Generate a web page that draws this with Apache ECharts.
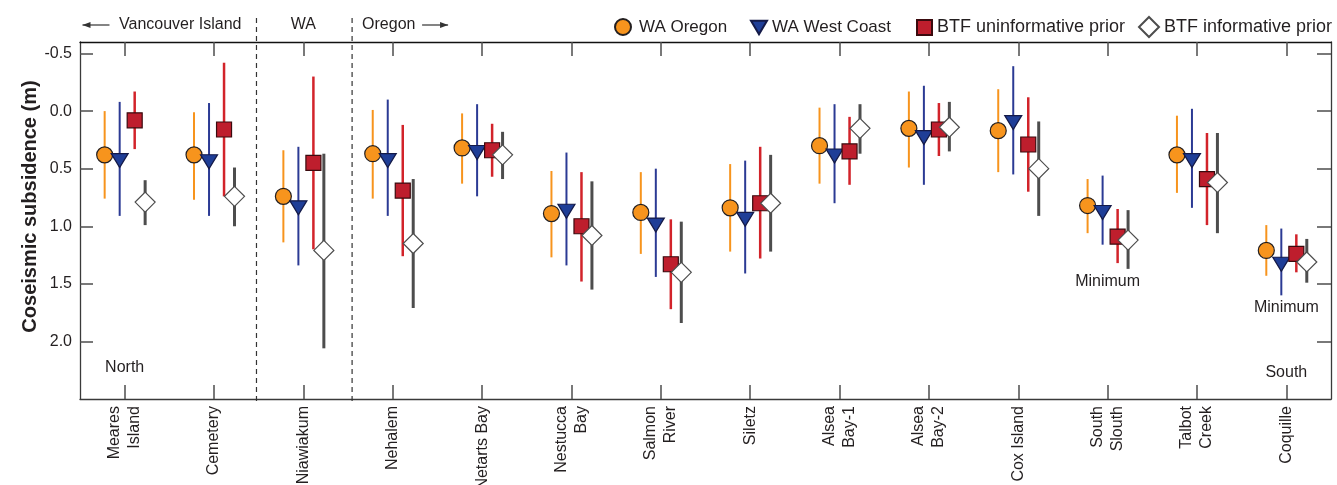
<!DOCTYPE html>
<html>
<head>
<meta charset="utf-8">
<script src="https://cdn.jsdelivr.net/npm/echarts@6/dist/echarts.min.js"></script>
<style>
  html, body { margin: 0; padding: 0; background: #ffffff; }
  #chart { width: 1337px; height: 485px; }
</style>
</head>
<body>
<div id="chart"></div>
<script>
// Sites from north (Vancouver Island) to south (Oregon)
const sites = ['Meares\nIsland', 'Cemetery', 'Niawiakum', 'Nehalem', 'Netarts Bay',
  'Nestucca\nBay', 'Salmon\nRiver', 'Siletz', 'Alsea\nBay-1', 'Alsea\nBay-2',
  'Cox Island', 'South\nSlouth', 'Talbot\nCreek', 'Coquille'];

const yTicks = [-0.5, 0.0, 0.5, 1.0, 1.5, 2.0];

// Coseismic subsidence (m): best estimate and uncertainty range per site
const waOregonMid  = [0.38, 0.38, 0.74, 0.37, 0.32, 0.89, 0.88, 0.84, 0.30, 0.15, 0.17, 0.82, 0.38, 1.21];
const waOregonLo   = [0.00, 0.01, 0.34, -0.01, 0.02, 0.52, 0.53, 0.46, -0.03, -0.17, -0.19, 0.59, 0.04, 0.99];
const waOregonHi   = [0.76, 0.77, 1.14, 0.76, 0.63, 1.27, 1.24, 1.22, 0.63, 0.49, 0.53, 1.06, 0.71, 1.43];

const waCoastMid   = [0.43, 0.44, 0.84, 0.43, 0.36, 0.87, 0.99, 0.94, 0.39, 0.23, 0.10, 0.88, 0.43, 1.33];
const waCoastLo    = [-0.08, -0.07, 0.31, -0.10, -0.06, 0.36, 0.50, 0.43, -0.06, -0.22, -0.39, 0.56, -0.02, 1.02];
const waCoastHi    = [0.91, 0.91, 1.34, 0.91, 0.74, 1.34, 1.44, 1.41, 0.80, 0.64, 0.55, 1.16, 0.84, 1.60];

const btfUninfMid  = [0.08, 0.16, 0.45, 0.69, 0.34, 1.00, 1.33, 0.80, 0.35, 0.16, 0.29, 1.09, 0.59, 1.24];
const btfUninfLo   = [-0.17, -0.42, -0.30, 0.12, 0.11, 0.53, 0.94, 0.31, 0.05, -0.07, -0.12, 0.85, 0.19, 1.07];
const btfUninfHi   = [0.33, 0.74, 1.20, 1.26, 0.57, 1.48, 1.72, 1.28, 0.64, 0.39, 0.70, 1.32, 0.99, 1.40];

const btfInfMid    = [0.79, 0.74, 1.21, 1.15, 0.38, 1.08, 1.40, 0.80, 0.15, 0.14, 0.50, 1.12, 0.62, 1.31];
const btfInfLo     = [0.60, 0.49, 0.37, 0.59, 0.18, 0.61, 0.96, 0.38, -0.06, -0.08, 0.09, 0.86, 0.19, 1.11];
const btfInfHi     = [0.99, 1.00, 2.06, 1.71, 0.59, 1.55, 1.84, 1.22, 0.37, 0.35, 0.91, 1.37, 1.06, 1.49];

// Text notes placed in data coordinates (site index, subsidence)
const noteText = ['North', 'South', 'Minimum', 'Minimum'];
const noteSite = [0, 13, 11, 13];
const noteDepth = [2.23, 2.27, 1.48, 1.71];

const FONT = '"Liberation Sans", Arial, Helvetica, sans-serif';
const INK = '#231F20';
const DOWN_TRIANGLE = 'path://M0,0L20,0L10,17Z';

const groups = [
  { name: 'WA Oregon', mid: waOregonMid, lo: waOregonLo, hi: waOregonHi, shift: -0.224,
    symbol: 'circle', size: 16, fill: '#F7941D', border: '#231F20', bar: '#F7941D', barW: 2 },
  { name: 'WA West Coast', mid: waCoastMid, lo: waCoastLo, hi: waCoastHi, shift: -0.056,
    symbol: DOWN_TRIANGLE, size: [17, 14], fill: '#1F3E97', border: '#141A48', bar: '#2B3A94', barW: 2 },
  { name: 'BTF uninformative prior', mid: btfUninfMid, lo: btfUninfLo, hi: btfUninfHi, shift: 0.112,
    symbol: 'rect', size: 15, fill: '#BE1E2D', border: '#3A0A0E', bar: '#D2232A', barW: 2.5 },
  { name: 'BTF informative prior', mid: btfInfMid, lo: btfInfLo, hi: btfInfHi, shift: 0.229,
    symbol: 'diamond', size: [20, 20], fill: '#FFFFFF', border: '#4D4D4D', bar: '#4D4D4D', barW: 3 }
];

const chart = echarts.init(document.getElementById('chart'), null, { renderer: 'canvas' });

const series = [];
groups.forEach(g => {
  series.push({
    name: g.name + ' range',
    type: 'custom',
    xAxisIndex: 2,
    yAxisIndex: 0,
    silent: true,
    z: 2,
    data: g.lo.map((l, i) => [i + g.shift, l, g.hi[i]]),
    encode: { x: 0, y: [1, 2] },
    renderItem: (params, api) => {
      const a = api.coord([api.value(0), api.value(1)]);
      const b = api.coord([api.value(0), api.value(2)]);
      return { type: 'line', shape: { x1: a[0], y1: a[1], x2: b[0], y2: b[1] },
        style: { stroke: g.bar, lineWidth: g.barW } };
    }
  });
});
groups.forEach((g, k) => {
  series.push({
    name: g.name,
    type: 'scatter',
    xAxisIndex: 2,
    yAxisIndex: 0,
    z: 3 + k,
    symbol: g.symbol,
    symbolSize: g.size,
    data: g.mid.map((m, i) => [i + g.shift, m]),
    itemStyle: { color: g.fill, borderColor: g.border, borderWidth: 1.2, opacity: 1 }
  });
});
series.push({
  name: 'notes',
  type: 'custom',
  xAxisIndex: 2,
  yAxisIndex: 0,
  silent: true,
  z: 10,
  data: noteText.map((t, i) => [noteSite[i], noteDepth[i], i]),
  renderItem: (params, api) => {
    const p = api.coord([api.value(0), api.value(1)]);
    return { type: 'text', x: p[0], y: p[1],
      style: { text: noteText[api.value(2)], fill: INK, font: '16px ' + FONT,
        align: 'center', verticalAlign: 'middle' } };
  }
});

const legendPos = [
  { left: 614, w: 22, h: 16, fs: 17 },
  { left: 750, w: 16, h: 14, fs: 17 },
  { left: 916, w: 15, h: 15, fs: 18 },
  { left: 1138, w: 20, h: 20, fs: 18 }
];

const tickStyle = { color: '#4D4D4D', width: 1.5 };
const catTick = { show: true, inside: true, length: 14, interval: 0, alignWithLabel: true, lineStyle: tickStyle };

chart.setOption({
  animation: false,
  backgroundColor: '#ffffff',
  textStyle: { fontFamily: FONT, color: INK },
  grid: { left: 80, right: 6, top: 42, bottom: 86, containLabel: false, outerBoundsMode: 'none' },
  legend: groups.map((g, k) => ({
    data: [g.name],
    left: legendPos[k].left,
    top: 26 - legendPos[k].h / 2,
    padding: 0,
    itemWidth: legendPos[k].w,
    itemHeight: legendPos[k].h,
    selectedMode: false,
    textStyle: { fontSize: legendPos[k].fs, color: INK, fontFamily: FONT }
  })),
  xAxis: [
    {
      type: 'category', data: sites, position: 'bottom', boundaryGap: true,
      axisLine: { show: true, onZero: false, lineStyle: { color: '#3A3A3A', width: 1.3 } },
      axisTick: catTick,
      axisLabel: { rotate: 90, interval: 0, fontSize: 16, lineHeight: 20, margin: 7, color: INK, fontFamily: FONT },
      splitLine: { show: false }
    },
    {
      type: 'category', data: sites, position: 'top', boundaryGap: true,
      axisLine: { show: true, onZero: false, lineStyle: { color: '#111111', width: 1.3 } },
      axisTick: catTick,
      axisLabel: { show: false, interval: 0 },
      splitLine: { show: false }
    },
    { type: 'value', min: -0.5, max: 13.5, show: false }
  ],
  yAxis: [
    {
      type: 'value', inverse: true, min: -0.6, max: 2.5, position: 'left',
      axisLine: { show: true, onZero: false, lineStyle: { color: '#3A3A3A', width: 1.3 } },
      axisTick: { show: true, inside: true, length: 13, customValues: yTicks, lineStyle: tickStyle },
      axisLabel: { customValues: yTicks, formatter: v => v.toFixed(1), fontSize: 16, margin: 8, color: INK, fontFamily: FONT },
      splitLine: { show: false }
    },
    {
      type: 'value', inverse: true, min: -0.6, max: 2.5, position: 'right',
      axisLine: { show: true, onZero: false, lineStyle: { color: '#3A3A3A', width: 1.3 } },
      axisTick: { show: true, inside: true, length: 14, customValues: yTicks, lineStyle: tickStyle },
      axisLabel: { show: false },
      splitLine: { show: false }
    }
  ],
  series: series
});

// Region separators and header labels above the plot
const regionBreaks = [1.475, 2.545];
const xb = regionBreaks.map(v => chart.convertToPixel({ xAxisIndex: 2 }, v));
const xWA = chart.convertToPixel({ xAxisIndex: 2 }, 2);
const headY = 25;
const graphics = [];
xb.forEach(x => {
  graphics.push({ type: 'line', shape: { x1: x, y1: 18, x2: x, y2: 402 },
    style: { stroke: '#333333', lineWidth: 1.2, lineDash: [5, 4] }, z: 1, silent: true });
});
function arrow(x1, x2) {
  const dir = x2 > x1 ? 1 : -1;
  graphics.push({ type: 'line', shape: { x1: x1, y1: headY, x2: x2, y2: headY },
    style: { stroke: '#333333', lineWidth: 1.2 }, silent: true });
  graphics.push({ type: 'polygon', shape: { points: [[x2, headY], [x2 - dir * 8, headY - 3], [x2 - dir * 8, headY + 3]] },
    style: { fill: '#333333' }, silent: true });
}
arrow(xb[0] - 147, xb[0] - 174);
graphics.push({ type: 'text', x: xb[0] - 15, y: headY,
  style: { text: 'Vancouver Island', font: '16px ' + FONT, fill: INK, align: 'right', verticalAlign: 'middle' } });
graphics.push({ type: 'text', x: xWA, y: headY,
  style: { text: 'WA', font: '16px ' + FONT, fill: INK, align: 'center', verticalAlign: 'middle' } });
graphics.push({ type: 'text', x: xb[1] + 10, y: headY,
  style: { text: 'Oregon', font: '16px ' + FONT, fill: INK, align: 'left', verticalAlign: 'middle' } });
arrow(xb[1] + 70, xb[1] + 96);
graphics.push({ type: 'text', x: 30.5, y: 206.5, rotation: Math.PI / 2,
  style: { text: 'Coseismic subsidence (m)', font: 'bold 20px ' + FONT, fill: INK, align: 'center', verticalAlign: 'middle' } });

chart.setOption({ graphic: graphics });
</script>
</body>
</html>
